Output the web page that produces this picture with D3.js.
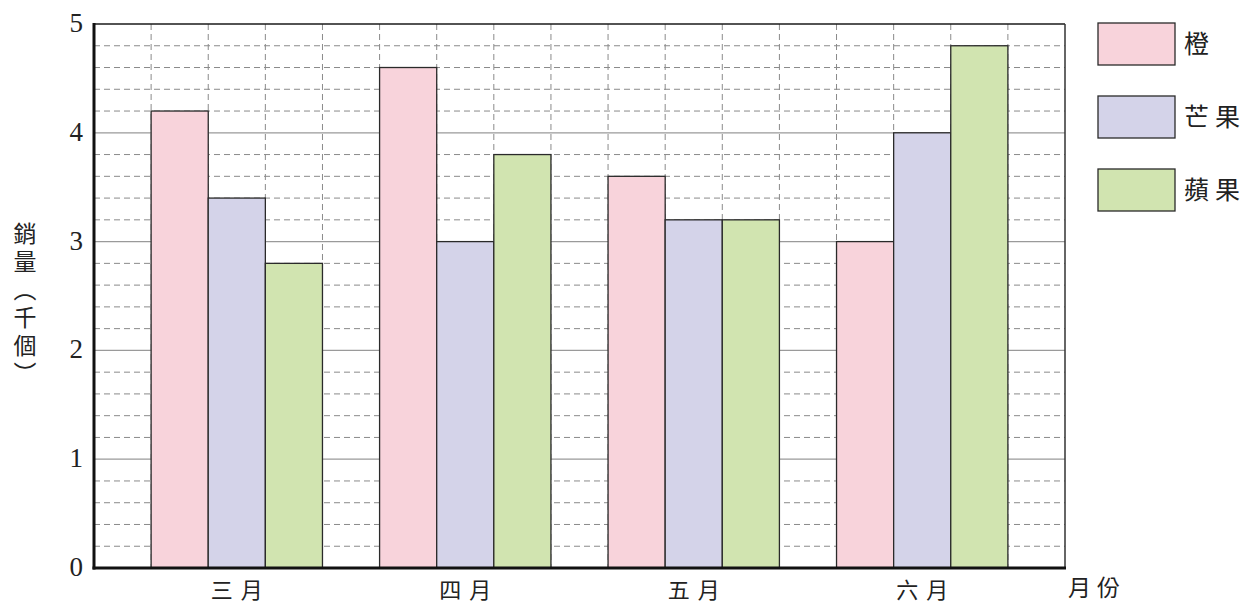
<!DOCTYPE html>
<html>
<head>
<meta charset="utf-8">
<script src="https://cdn.jsdelivr.net/npm/d3@7"></script>
<style>
  body { margin: 0; background: #fff; }
  svg { display: block; }
</style>
</head>
<body>
<script>
// data
const months = ['三月', '四月', '五月', '六月']
const fruits = ['橙', '芒果', '蘋果']
const orange = [4.2, 4.6, 3.6, 3.0]
const mango = [3.4, 3.0, 3.2, 4.0]
const apple = [2.8, 3.8, 3.2, 4.8]
const yTicks = [0, 1, 2, 3, 4, 5]

const series = [orange, mango, apple]
const colors = ['#f8d3db', '#d4d3e9', '#d1e4b0']

const W = 1247, H = 604
const margin = {top: 24, right: 182, bottom: 36, left: 94}
const width = W - margin.left - margin.right
const height = H - margin.top - margin.bottom

const svg = d3.select('body').append('svg')
  .attr('width', W)
  .attr('height', H)

const g = svg.append('g')
  .attr('transform', `translate(${margin.left}, ${margin.top})`)

const y = d3.scaleLinear().domain([0, 5]).range([height, 0])

const x0 = d3.scaleBand()
  .domain(months)
  .range([0, width])
  .paddingInner(0.25)
  .paddingOuter(0.25)

const x1 = d3.scaleBand()
  .domain(fruits)
  .range([0, x0.bandwidth()])

// columns: 17 equal slots across the plot
const col = d3.scaleLinear().domain([0, 17]).range([0, width])

// minor horizontal grid (dashed)
const minor = d3.range(0, 5.001, 0.2).filter(v => Math.abs(v - Math.round(v)) > 1e-6)
g.append('g').selectAll('line').data(minor).enter()
  .append('line')
  .attr('x1', 0).attr('x2', width)
  .attr('y1', d => y(d)).attr('y2', d => y(d))
  .attr('stroke', '#8a8a8a')
  .attr('stroke-width', 1)
  .attr('stroke-dasharray', '6,4')

// vertical grid (dashed)
g.append('g').selectAll('line').data(d3.range(1, 17)).enter()
  .append('line')
  .attr('x1', d => col(d)).attr('x2', d => col(d))
  .attr('y1', 0).attr('y2', height)
  .attr('stroke', '#8a8a8a')
  .attr('stroke-width', 1)
  .attr('stroke-dasharray', '6,4')

// major horizontal grid
g.append('g').selectAll('line').data(yTicks.slice(1, 5)).enter()
  .append('line')
  .attr('x1', 0).attr('x2', width)
  .attr('y1', d => y(d)).attr('y2', d => y(d))
  .attr('stroke', '#9a9a9a')
  .attr('stroke-width', 1.2)

// bars
const groups = g.append('g').selectAll('g').data(months).enter()
  .append('g')
  .attr('transform', d => `translate(${x0(d)}, 0)`)

groups.selectAll('rect')
  .data((m, i) => fruits.map((f, k) => ({f, k, v: series[k][i]})))
  .enter()
  .append('rect')
  .attr('x', d => x1(d.f))
  .attr('y', d => y(d.v))
  .attr('width', x1.bandwidth())
  .attr('height', d => height - y(d.v))
  .attr('fill', d => colors[d.k])
  .attr('stroke', '#2a2a2a')
  .attr('stroke-width', 1.3)

// frame: top and right thin, left and bottom thick
g.append('line').attr('x1', 0).attr('x2', width).attr('y1', 0).attr('y2', 0)
  .attr('stroke', '#1a1a1a').attr('stroke-width', 1.5)
g.append('line').attr('x1', width).attr('x2', width).attr('y1', 0).attr('y2', height)
  .attr('stroke', '#333').attr('stroke-width', 1.5)
g.append('line').attr('x1', 0).attr('x2', 0).attr('y1', -1).attr('y2', height + 1.5)
  .attr('stroke', '#111').attr('stroke-width', 3)
g.append('line').attr('x1', -1.5).attr('x2', width + 1).attr('y1', height).attr('y2', height)
  .attr('stroke', '#111').attr('stroke-width', 3)

// y tick labels
g.append('g').selectAll('text').data(yTicks).enter()
  .append('text')
  .attr('x', -11)
  .attr('y', d => y(d) + 8)
  .attr('text-anchor', 'end')
  .attr('font-family', "'Times New Roman', 'Liberation Serif', serif")
  .attr('font-size', 27)
  .attr('fill', '#222')
  .text(d => d)

const cjk = "'Noto Sans CJK TC', 'Noto Sans CJK SC', sans-serif"

// month labels
g.append('g').selectAll('text').data(months).enter()
  .append('text')
  .attr('x', d => x0(d) + x0.bandwidth() / 2 + 4)
  .attr('y', height + 30)
  .attr('text-anchor', 'middle')
  .attr('font-family', cjk)
  .attr('font-size', 22)
  .attr('letter-spacing', 8)
  .attr('fill', '#222')
  .text(d => d)

// x axis title
svg.append('text')
  .attr('x', 1097)
  .attr('y', 596)
  .attr('text-anchor', 'middle')
  .attr('font-family', cjk)
  .attr('font-size', 23)
  .attr('letter-spacing', 6)
  .attr('fill', '#222')
  .text('月份')

// y axis title, vertical writing
svg.append('text')
  .attr('x', 25)
  .attr('y', 222)
  .style('writing-mode', 'vertical-rl')
  .attr('font-family', cjk)
  .attr('font-size', 23)
  .attr('letter-spacing', 5)
  .attr('fill', '#222')
  .text('銷量（千個）')

// legend
const legend = svg.append('g').attr('transform', 'translate(1098, 23)')
const items = legend.selectAll('g').data(fruits).enter()
  .append('g')
  .attr('transform', (d, i) => `translate(0, ${i * 73})`)
items.append('rect')
  .attr('width', 77).attr('height', 42)
  .attr('fill', (d, i) => colors[i])
  .attr('stroke', '#2a2a2a')
  .attr('stroke-width', 1.3)
items.append('text')
  .attr('x', 86)
  .attr('y', 21)
  .attr('dy', '0.35em')
  .attr('font-family', cjk)
  .attr('font-size', 25)
  .attr('letter-spacing', 6)
  .attr('fill', '#222')
  .text(d => d)
</script>
</body>
</html>
